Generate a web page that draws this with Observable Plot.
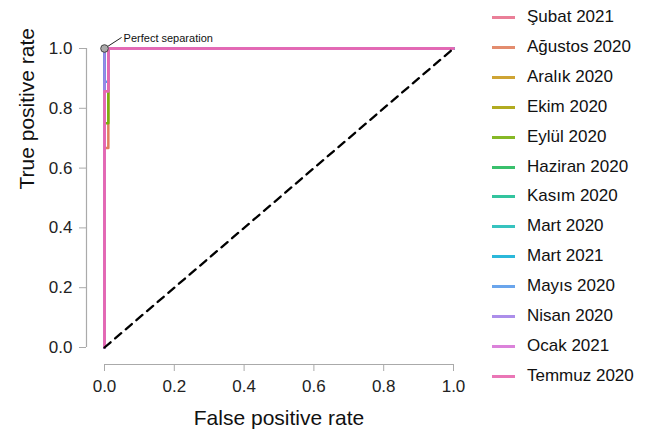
<!DOCTYPE html>
<html>
<head>
<meta charset="utf-8">
<script src="https://cdn.jsdelivr.net/npm/d3@7"></script>
<script src="https://cdn.jsdelivr.net/npm/@observablehq/plot@0.6"></script>
<style>
  html, body { margin: 0; padding: 0; background: #fff; }
  #wrap { position: relative; width: 651px; height: 436px; font-family: "Liberation Sans", Arial, sans-serif; }
  #legend { position: absolute; left: 0; top: 0; }
  .row { position: absolute; left: 492px; height: 30px; width: 160px; }
  .sw { position: absolute; left: 0; top: 14px; width: 23px; height: 3px; opacity: 0.9; }
  .lab { position: absolute; left: 35px; top: 0; line-height: 30px; font-size: 17px; color: #111; white-space: nowrap; }
</style>
</head>
<body>
<div id="wrap"><div id="chart"></div><div id="legend"></div></div>
<script>
const months = ["Şubat 2021","Ağustos 2020","Aralık 2020","Ekim 2020","Eylül 2020","Haziran 2020","Kasım 2020","Mart 2020","Mart 2021","Mayıs 2020","Nisan 2020","Ocak 2021","Temmuz 2020"];
const colors = ["#E8718D","#E0805E","#C99A1E","#A9A208","#79B00E","#23B95C","#1DBE93","#21BDB8","#14B0D6","#5A9BEA","#A382E8","#D774D6","#E867AE"];
// ROC curve vertices per series (false positive rate, true positive rate)
const fprs = [
  [0,0,1],
  [0,0,0.011,0.011,1],
  [0,0,1],
  [0,0,1],
  [0,0,0.011,0.011,1],
  [0,0,1],
  [0,0,1],
  [0,0,1],
  [0,0,1],
  [0,0,0.011,0.011,1],
  [0,0,1],
  [0,0,0.011,0.011,1],
  [0,0,0.011,0.011,1]
];
const tprs = [
  [0,1,1],
  [0,0.667,0.667,1,1],
  [0,1,1],
  [0,1,1],
  [0,0.75,0.75,1,1],
  [0,1,1],
  [0,1,1],
  [0,1,1],
  [0,1,1],
  [0,0.889,0.889,1,1],
  [0,1,1],
  [0,0.857,0.857,1,1],
  [0,0.857,0.857,1,1]
];
const ticks = [0,0.2,0.4,0.6,0.8,1.0];
const diagonal = [{x:0,y:0},{x:1,y:1}];
const annotation = [{x:0, y:1, x2:0.049, y2:1.037, text:"Perfect separation"}];

const rows = [];
months.forEach((m, i) => fprs[i].forEach((f, j) => rows.push({month: m, fpr: f, tpr: tprs[i][j]})));

const font = "Liberation Sans, Arial, sans-serif";
const chart = Plot.plot({
  width: 651, height: 436,
  marginLeft: 86, insetLeft: 18,
  marginBottom: 72, insetBottom: 17,
  marginTop: 48, marginRight: 198,
  style: {fontFamily: font, background: "#fff", overflow: "visible"},
  x: {domain: [0,1]},
  y: {domain: [0,1]},
  color: {domain: months, range: colors},
  marks: [
    Plot.axisY({ticks, tickFormat: d3.format(".1f"), tickSize: 7, tickPadding: 7, fontSize: 17, stroke: "#aaa", color: "#222", label: null}),
    Plot.axisX({ticks, tickFormat: d3.format(".1f"), tickSize: 7, tickPadding: 8, fontSize: 17, stroke: "#aaa", color: "#222", label: null}),
    Plot.ruleX([0], {y1: 0, y2: 1, dx: -18, stroke: "#aaa", strokeWidth: 1.2}),
    Plot.ruleY([0], {x1: 0, x2: 1, dy: 17, stroke: "#aaa", strokeWidth: 1.2}),
    Plot.line(rows, {x: "fpr", y: "tpr", z: "month", stroke: "month", strokeWidth: 2.5, curve: "linear"}),
    Plot.line(diagonal, {x: "x", y: "y", stroke: "#000", strokeWidth: 2.3, strokeDasharray: "8,6"}),
    Plot.link(annotation, {x1: "x", y1: "y", x2: "x2", y2: "y2", stroke: "#222", strokeWidth: 1}),
    Plot.dot(annotation, {x: "x", y: "y", r: 3.8, fill: "#aaa", stroke: "#444", strokeWidth: 1}),
    Plot.text(annotation, {x: "x2", y: "y2", text: "text", textAnchor: "start", dx: 2, dy: 1, fontSize: 11, fill: "#111", lineAnchor: "middle"}),
    Plot.text(["False positive rate"], {frameAnchor: "bottom", dx: 9, dy: 54, fontSize: 21, fill: "#111", lineAnchor: "middle"}),
    Plot.text(["True positive rate"], {frameAnchor: "left", dx: -59, dy: -17, rotate: -90, fontSize: 21, fill: "#111", lineAnchor: "middle"})
  ]
});
document.getElementById("chart").appendChild(chart);

const leg = document.getElementById("legend");
months.forEach((m, i) => {
  const r = document.createElement("div");
  r.className = "row";
  r.style.top = Math.round(2 + i * 29.9) + "px";
  r.innerHTML = `<div class="sw" style="background:${colors[i]}"></div><div class="lab">${m}</div>`;
  leg.appendChild(r);
});
</script>
</body>
</html>
